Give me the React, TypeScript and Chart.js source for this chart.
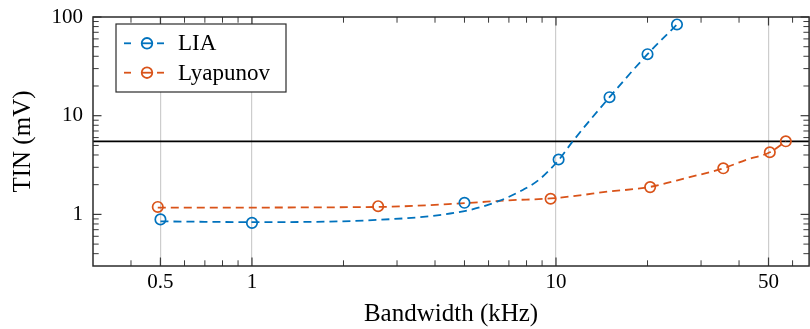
import React, { useEffect, useRef } from "react";
import { Chart, registerables } from "chart.js";

Chart.register(...registerables);

// Measured points
const liaBandwidth = [0.5, 1, 5, 10.2, 15, 20, 25];
const liaTin = [0.89, 0.82, 1.31, 3.6, 15.4, 42, 84];
const lyaBandwidth = [0.49, 2.6, 9.6, 20.4, 35.5, 50.5, 57];
const lyaTin = [1.19, 1.21, 1.44, 1.89, 2.93, 4.26, 5.5];

// Smooth trend curves drawn dashed behind the markers
const liaFitBandwidth = [0.5, 1, 2.6, 5, 6.5, 7.8, 8.8, 10.2, 11.3, 15, 20, 25];
const liaFitTin = [0.85, 0.835, 0.88, 1.08, 1.37, 1.78, 2.25, 3.55, 5.4, 15.4, 42, 84];
const lyaFitBandwidth = [0.49, 2.6, 5, 7, 9.6, 12, 14.3, 20.4, 27, 35.5, 42, 50.5, 57];
const lyaFitTin = [1.17, 1.19, 1.3, 1.39, 1.45, 1.56, 1.68, 1.9, 2.35, 2.93, 3.55, 4.26, 5.5];

// Horizontal reference level (mV)
const threshold = 5.5;

// Axis ranges and ticks
const xMin = 0.3;
const xMax = 68;
const yMin = 0.3;
const yMax = 100;
const xTickValues = [0.5, 1, 10, 50];
const yTickValues = [1, 10, 100];
const xMinorTicks = [0.4, 0.5, 0.6, 0.7, 0.8, 0.9, 2, 3, 4, 5, 6, 7, 8, 9, 20, 30, 40, 50, 60];
const yMinorTicks = [0.4, 0.5, 0.6, 0.7, 0.8, 0.9, 2, 3, 4, 5, 6, 7, 8, 9, 20, 30, 40, 50, 60, 70, 80, 90];

const seriesNames = ["LIA", "Lyapunov"];
const seriesColors = ["#0072BD", "#D95319"];

const FONT = "'Liberation Serif', 'Times New Roman', serif";

const toPoints = (xs: number[], ys: number[]) => xs.map((x, i) => ({ x, y: ys[i] }));

const axesPlugin = {
  id: "boxAxes",
  afterDatasetsDraw(chart: any) {
    const { ctx, chartArea: a, scales } = chart;
    const xs = scales.x;
    const ys = scales.y;
    const seg = (x1: number, y1: number, x2: number, y2: number) => {
      ctx.beginPath();
      ctx.moveTo(x1, y1);
      ctx.lineTo(x2, y2);
      ctx.stroke();
    };
    ctx.save();
    ctx.strokeStyle = "#3a3a3a";
    ctx.lineWidth = 1;
    for (const v of xMinorTicks) {
      const p = xs.getPixelForValue(v);
      seg(p, a.bottom, p, a.bottom - 5.7);
      seg(p, a.top, p, a.top + 5.7);
    }
    for (const v of yMinorTicks) {
      const p = ys.getPixelForValue(v);
      seg(a.left, p, a.left + 5.7, p);
      seg(a.right, p, a.right - 5.7, p);
    }
    ctx.lineWidth = 1.2;
    for (const v of xTickValues) {
      const p = xs.getPixelForValue(v);
      seg(p, a.bottom, p, a.bottom - 8.5);
      seg(p, a.top, p, a.top + 8.5);
    }
    for (const v of yTickValues) {
      const p = ys.getPixelForValue(v);
      seg(a.left, p, a.left + 8.5, p);
      seg(a.right, p, a.right - 8.5, p);
    }
    ctx.lineWidth = 1.5;
    ctx.strokeStyle = "#2b2b2b";
    ctx.strokeRect(a.left, a.top, a.right - a.left, a.bottom - a.top);
    ctx.restore();
  },
};

const legendPlugin = {
  id: "boxLegend",
  afterDraw(chart: any) {
    const { ctx, chartArea: a } = chart;
    const bx = a.left + 23;
    const by = a.top + 7;
    const bw = 170;
    const bh = 68;
    ctx.save();
    ctx.fillStyle = "#ffffff";
    ctx.fillRect(bx, by, bw, bh);
    ctx.strokeStyle = "#2b2b2b";
    ctx.lineWidth = 1.2;
    ctx.strokeRect(bx, by, bw, bh);
    seriesNames.forEach((name, i) => {
      const cy = by + 19.3 + i * 29.4;
      const cx = bx + 31;
      ctx.strokeStyle = seriesColors[i];
      ctx.lineWidth = 1.8;
      ctx.setLineDash([]);
      const parts = [
        [bx + 8, bx + 15],
        [cx - 6, cx + 6],
        [bx + 41, bx + 48],
      ];
      for (const [s, e] of parts) {
        ctx.beginPath();
        ctx.moveTo(s, cy);
        ctx.lineTo(e, cy);
        ctx.stroke();
      }
      ctx.beginPath();
      ctx.arc(cx, cy, 5.3, 0, Math.PI * 2);
      ctx.stroke();
      ctx.fillStyle = "#000000";
      ctx.font = `23px ${FONT}`;
      ctx.textBaseline = "middle";
      ctx.textAlign = "left";
      ctx.fillText(name, bx + 62, cy + 1);
    });
    ctx.restore();
  },
};

export default function App() {
  const canvasRef = useRef<HTMLCanvasElement | null>(null);

  useEffect(() => {
    const canvas = canvasRef.current;
    if (!canvas) return;
    const markerStyle = (color: string) => ({
      showLine: false,
      pointStyle: "circle",
      pointRadius: 5.2,
      pointBorderWidth: 1.7,
      pointBorderColor: color,
      pointBackgroundColor: "rgba(255,255,255,0)",
      borderColor: color,
    });
    const fitStyle = (color: string) => ({
      borderColor: color,
      borderWidth: 1.8,
      borderDash: [8, 5],
      pointRadius: 0,
      cubicInterpolationMode: "monotone",
      fill: false,
    });
    const noEdgePadding = (scale: any) => {
      scale.paddingTop = 0;
      scale.paddingBottom = 0;
      scale.paddingLeft = 0;
      scale.paddingRight = 0;
    };
    const chart = new Chart(canvas, {
      type: "line",
      data: {
        datasets: [
          { label: "LIA", data: toPoints(liaBandwidth, liaTin), ...markerStyle(seriesColors[0]) } as any,
          { label: "Lyapunov", data: toPoints(lyaBandwidth, lyaTin), ...markerStyle(seriesColors[1]) } as any,
          { label: "LIA trend", data: toPoints(liaFitBandwidth, liaFitTin), ...fitStyle(seriesColors[0]) } as any,
          { label: "Lyapunov trend", data: toPoints(lyaFitBandwidth, lyaFitTin), ...fitStyle(seriesColors[1]) } as any,
          {
            label: "Threshold",
            data: [
              { x: xMin, y: threshold },
              { x: xMax, y: threshold },
            ],
            borderColor: "#000000",
            borderWidth: 1.8,
            pointRadius: 0,
          } as any,
        ],
      },
      options: {
        responsive: false,
        animation: false,
        events: [],
        layout: { padding: { left: 0, right: 3, top: 17, bottom: 0 } },
        plugins: { legend: { display: false }, tooltip: { enabled: false } },
        scales: {
          x: {
            type: "logarithmic",
            min: xMin,
            max: xMax,
            afterBuildTicks: (scale: any) => {
              scale.ticks = xTickValues.map((v) => ({ value: v }));
            },
            afterFit: (scale: any) => {
              scale.height = 63;
              noEdgePadding(scale);
            },
            ticks: {
              autoSkip: false,
              maxRotation: 0,
              minRotation: 0,
              padding: 4,
              color: "#000000",
              font: { family: FONT, size: 21 },
              callback: (value: any) => String(value),
            },
            grid: { display: true, drawTicks: false, color: "#cdcdcd", lineWidth: 1.2 },
            border: { display: false },
            title: {
              display: true,
              text: "Bandwidth (kHz)",
              color: "#000000",
              font: { family: FONT, size: 25 },
              padding: { top: 0, bottom: 0 },
            },
          },
          y: {
            type: "logarithmic",
            min: yMin,
            max: yMax,
            afterBuildTicks: (scale: any) => {
              scale.ticks = yTickValues.map((v) => ({ value: v }));
            },
            afterFit: (scale: any) => {
              scale.width = 93;
              noEdgePadding(scale);
            },
            ticks: {
              autoSkip: false,
              padding: 10,
              color: "#000000",
              font: { family: FONT, size: 21 },
              callback: (value: any) => String(value),
            },
            grid: { display: false, drawTicks: false },
            border: { display: false },
            title: {
              display: true,
              text: "TIN (mV)",
              color: "#000000",
              font: { family: FONT, size: 25 },
              padding: { top: 8, bottom: 0 },
            },
          },
        },
      },
      plugins: [axesPlugin, legendPlugin],
    } as any);
    return () => chart.destroy();
  }, []);

  return (
    <div
      style={{
        position: "absolute",
        left: 0,
        top: 0,
        width: 810,
        height: 329,
        overflow: "hidden",
        background: "#ffffff",
      }}
    >
      <canvas ref={canvasRef} width={816} height={329} style={{ display: "block" }} />
    </div>
  );
}
